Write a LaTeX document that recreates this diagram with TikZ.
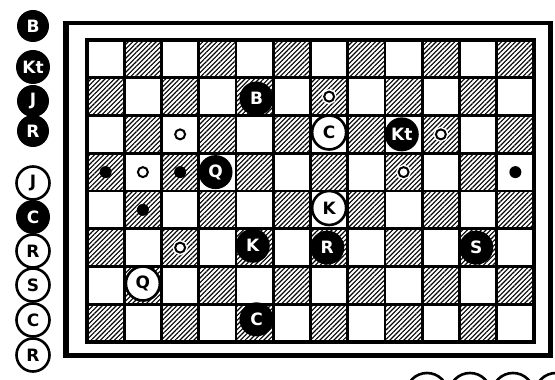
\documentclass[tikz,border=0pt]{standalone}
\usepackage{fontspec}
\setsansfont{DejaVu Sans}
\usetikzlibrary{patterns.meta}

\begin{document}
\begin{tikzpicture}[
    x=1pt,y=1pt,
    bpiece/.style={circle,fill=black,text=white,inner sep=0pt,minimum size=34pt,font=\sffamily\bfseries\fontsize{17}{17}\selectfont},
    wpiece/.style={bpiece,fill=white,draw=black,line width=2.6pt,text=black},
    bdot/.style={circle,fill=black,inner sep=0pt,minimum size=12pt},
    wdot/.style={circle,fill=white,draw=black,line width=2pt,inner sep=0pt,minimum size=10pt,preaction={draw=white,line width=5pt}},
    hatch/.style={pattern={Lines[angle=45,distance=3.3pt,line width=1.1pt]}},
    gridline/.style={line width=2.6pt}
  ]
  \useasboundingbox (0,0) rectangle (555,380);
  \clip (0,0) rectangle (555,380);
  % frame
  \draw[line width=4.5pt] (65.5,357) rectangle (550.5,24.5);
  \draw[line width=6pt] (65.5,359.25) -- (65.5,22.25);
  % board, rows counted from the top
  \begin{scope}[shift={(87,340)},x=37.25pt,y=-37.75pt]
    \foreach \c in {1,...,12}
      \foreach \r in {1,...,8}{
        \pgfmathtruncatemacro\odd{mod(\c+\r,2)}
        \ifnum\odd=1
          \fill[hatch] (\c-1,\r-1) rectangle (\c,\r);
        \fi
      }
    \foreach \c in {1,...,11}
      \draw[gridline] (\c,0) -- (\c,8);
    \foreach \r in {1,...,7}
      \draw[gridline] (0,\r) -- (12,\r);
    \draw[line width=3.2pt] (0,0) rectangle (12,8);
    % small markers
    \node[wdot] (w72)  at (6.5,1.5) {};
    \node[wdot] (w33)  at (2.5,2.5) {};
    \node[wdot] (w103) at (9.5,2.5) {};
    \node[wdot] (w24)  at (1.5,3.5) {};
    \node[wdot] (w94)  at (8.5,3.5) {};
    \node[wdot] (w36)  at (2.5,5.5) {};
    \node[bdot] (b14)  at (0.5,3.5) {};
    \node[bdot] (b34)  at (2.5,3.5) {};
    \node[bdot] (b124) at (11.5,3.5) {};
    \node[bdot] (b25)  at (1.5,4.5) {};
    % pieces
    \node[bpiece] (bB)  at (4.55,1.55) {B};
    \node[bpiece] (bKt) at (8.45,2.5) {Kt};
    \node[bpiece] (bQ)  at (3.45,3.5) {Q};
    \node[bpiece] (bK)  at (4.45,5.45) {K};
    \node[bpiece] (bR)  at (6.45,5.5) {R};
    \node[bpiece] (bS)  at (10.45,5.5) {S};
    \node[bpiece] (bC)  at (4.55,7.4) {C};
    \node[wpiece] (wC)  at (6.5,2.45) {C};
    \node[wpiece] (wK)  at (6.5,4.45) {K};
    \node[wpiece] (wQ)  at (1.5,6.45) {Q};
  \end{scope}
  % pieces off the board
  \node[bpiece,minimum size=32pt] (lB)  at (33,354) {B};
  \node[bpiece,minimum size=34pt] (lKt) at (33,313) {Kt};
  \node[bpiece,minimum size=32pt] (lJ)  at (33,279) {J};
  \node[bpiece,minimum size=32pt] (lR)  at (33,249) {R};
  \node[wpiece,minimum size=33pt] (lJw) at (33,197) {J};
  \node[bpiece,minimum size=34pt] (lC)  at (33,163) {C};
  \node[wpiece,minimum size=33pt] (lRw) at (33,129) {R};
  \node[wpiece,minimum size=33pt] (lS)  at (33,95) {S};
  \node[wpiece,minimum size=33pt] (lCw) at (33,60) {C};
  \node[wpiece,minimum size=33pt] (lR2) at (33,25) {R};
  \node[wpiece,minimum size=42pt] (e1) at (427,-14) {};
  \node[wpiece,minimum size=42pt] (e2) at (470,-14) {};
  \node[wpiece,minimum size=42pt] (e3) at (513,-14) {};
  \node[wpiece,minimum size=42pt] (e4) at (556,-14) {};
\end{tikzpicture}
\end{document}
